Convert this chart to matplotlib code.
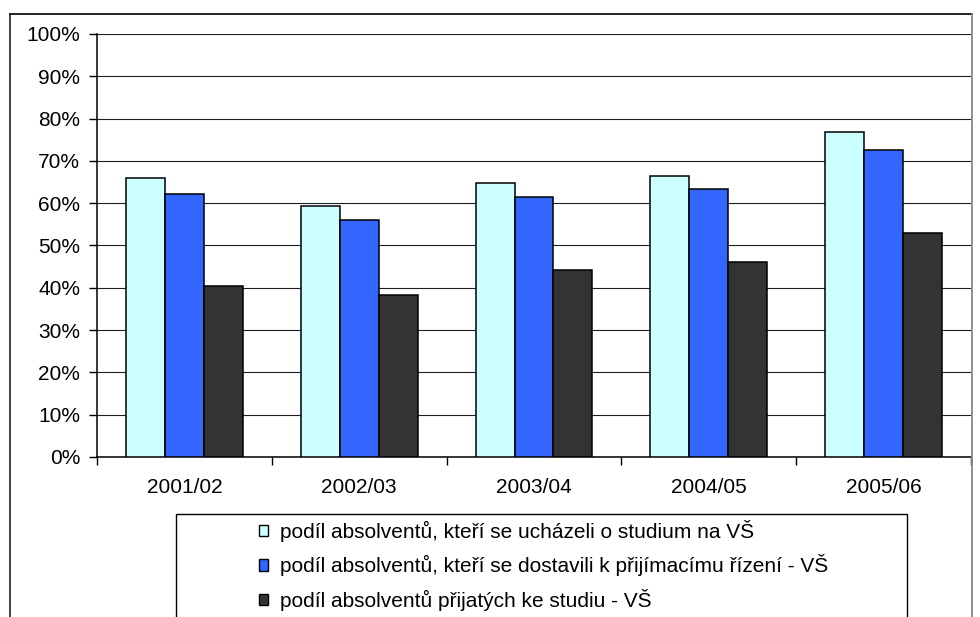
import matplotlib
matplotlib.use("Agg")
import matplotlib.pyplot as plt
from matplotlib.patches import Rectangle, Patch
from matplotlib.lines import Line2D
import numpy as np

plt.rcParams['font.family'] = ['Liberation Sans', 'DejaVu Sans']

years = ["2001/02", "2002/03", "2003/04", "2004/05", "2005/06"]
applied = [66.0, 59.4, 64.8, 66.4, 76.8]
attended = [62.1, 56.0, 61.4, 63.4, 72.5]
admitted = [40.4, 38.4, 44.2, 46.1, 53.0]
labels = [
    "podíl absolventů, kteří se ucházeli o studium na VŠ",
    "podíl absolventů, kteří se dostavili k přijímacímu řízení - VŠ",
    "podíl absolventů přijatých ke studiu - VŠ",
]
colors = ["#CCFFFF", "#3366FF", "#333333"]
yticks = list(range(0, 101, 10))

W, H = 980, 617
fig = plt.figure(figsize=(W / 100, H / 100), dpi=100)

def fx(px):
    return px / W

def fy(py):
    return 1 - py / H

ax = fig.add_axes([fx(97), fy(457), fx(971) - fx(97), fy(34) - fy(457)])

x = np.arange(len(years))
bw = 0.223
for i, (vals, c) in enumerate(zip([applied, attended, admitted], colors)):
    ax.bar(x + (i - 1) * bw, vals, width=bw, color=c, edgecolor="black",
           linewidth=1.1, zorder=3)

ax.set_xlim(-0.5, len(years) - 0.5)
ax.set_ylim(0, 100)
ax.set_yticks(yticks)
ax.set_yticklabels([f"{v}%" for v in yticks])
ax.yaxis.grid(True, color="#202020", linewidth=0.8, zorder=0)
ax.set_axisbelow(True)

ax.set_xticks(np.arange(-0.5, len(years), 1.0))
ax.set_xticklabels([])
ax.set_xticks(x, minor=True)
ax.set_xticklabels(years, minor=True)
ax.tick_params(axis="x", which="minor", length=0, pad=15, labelsize=15)
ax.tick_params(axis="x", which="major", length=6, width=1, color="black")
ax.tick_params(axis="y", length=6, width=1, pad=6, labelsize=15)

for s in ["top", "right"]:
    ax.spines[s].set_visible(False)
for s in ["left", "bottom"]:
    ax.spines[s].set_color("black")
    ax.spines[s].set_linewidth(1.1)

# figure border (bottom cut off)
fig.add_artist(Line2D([fx(10), fx(10)], [fy(14), -0.1], transform=fig.transFigure,
                      color="#333333", linewidth=1.3))
fig.add_artist(Line2D([fx(10), fx(971.5)], [fy(14), fy(14)], transform=fig.transFigure,
                      color="#111111", linewidth=1.3))
fig.add_artist(Line2D([fx(971.5), fx(971.5)], [fy(14), -0.1], transform=fig.transFigure,
                      color="#888888", linewidth=1.3))

# legend box (bottom cut off)
fig.add_artist(Rectangle((fx(175.5), fy(700)), fx(907) - fx(175.5), fy(513.5) - fy(700),
                         transform=fig.transFigure, facecolor="white",
                         edgecolor="black", linewidth=1.0, zorder=1))

handles = [Patch(facecolor=c, edgecolor="black", linewidth=1.0) for c in colors]
leg = fig.legend(handles, labels, loc="upper left",
                 bbox_to_anchor=(fx(259), fy(520)), frameon=False,
                 fontsize=15, handlelength=0.45, handleheight=0.45,
                 handletextpad=0.55, labelspacing=0.6, borderpad=0,
                 borderaxespad=0)
leg.set_zorder(5)

fig.savefig("out.png", dpi=100)
